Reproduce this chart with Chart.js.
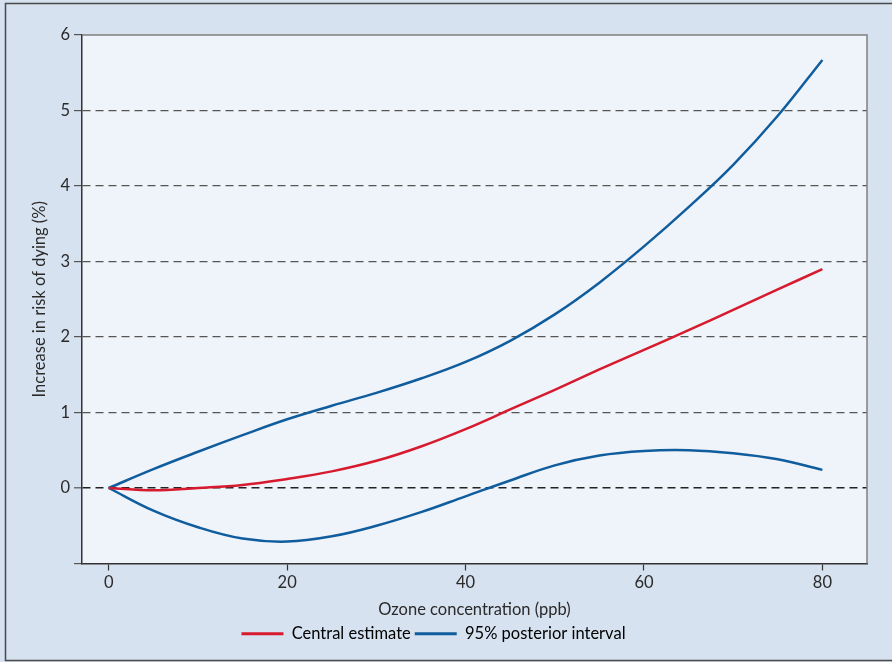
<!DOCTYPE html>
<html>
<head>
<meta charset="utf-8">
<script src="https://cdn.jsdelivr.net/npm/chart.js@4.4.0/dist/chart.umd.min.js"></script>
<style>
  html, body { margin: 0; padding: 0; background: #d6e2ef; }
  #wrap { width: 892px; height: 662px; }
</style>
</head>
<body>
<div id="wrap"><canvas id="ozoneChart" width="892" height="662"></canvas></div>
<script>
// ozone concentration (ppb)
const ozone = [0, 5, 10, 15, 20, 25, 30, 35, 40, 45, 50, 55, 60, 65, 70, 75, 80];
// increase in risk of dying (%)
const central = [0, -0.03, 0, 0.04, 0.12, 0.22, 0.36, 0.55, 0.78, 1.04, 1.3, 1.57, 1.83, 2.09, 2.36, 2.63, 2.9];
const upper95 = [0, 0.25, 0.48, 0.7, 0.91, 1.09, 1.26, 1.45, 1.67, 1.95, 2.3, 2.72, 3.2, 3.72, 4.28, 4.93, 5.67];
const lower95 = [0, -0.3, -0.52, -0.67, -0.71, -0.64, -0.5, -0.32, -0.11, 0.1, 0.3, 0.43, 0.49, 0.5, 0.46, 0.38, 0.24];

const xTicks = [0, 20, 40, 60, 80];
const yTicks = [-1, 0, 1, 2, 3, 4, 5, 6];

const RED = '#d71a2e';
const BLUE = '#105d9e';
const FONT = 'Lato';
const FSIZE = 16.5;

function pts(ys) {
    return ozone.map((x, i) => ({ x: x, y: ys[i] }));
}

// background panel, plot area fill, outer frame and top/right plot border
const framePlugin = {
    id: 'frame',
    beforeDraw(chart) {
        const { ctx, chartArea: a } = chart;
        ctx.save();
        ctx.fillStyle = '#d6e2ef';
        ctx.fillRect(0, 0, chart.width, chart.height);
        ctx.strokeStyle = '#4a4a4a';
        ctx.lineWidth = 1.5;
        ctx.strokeRect(5.5, 3.5, 892, 657);
        ctx.fillStyle = '#eff3fa';
        ctx.fillRect(a.left, a.top, a.right - a.left, a.bottom - a.top);
        ctx.restore();
    },
    afterDraw(chart) {
        const { ctx, chartArea: a } = chart;
        ctx.save();
        ctx.strokeStyle = '#808080';
        ctx.lineWidth = 1.5;
        ctx.beginPath();
        ctx.moveTo(a.left, a.top);
        ctx.lineTo(a.right, a.top);
        ctx.lineTo(a.right, a.bottom);
        ctx.stroke();
        ctx.restore();
    }
};

const ctx = document.getElementById('ozoneChart').getContext('2d');
const ozoneChart = new Chart(ctx, {
    type: 'line',
    data: {
        datasets: [
            {
                label: 'Central estimate',
                data: pts(central),
                borderColor: RED,
                backgroundColor: RED,
                borderWidth: 2.5
            },
            {
                label: '95% posterior interval',
                data: pts(upper95),
                borderColor: BLUE,
                backgroundColor: BLUE,
                borderWidth: 2.5
            },
            {
                label: 'lower',
                data: pts(lower95),
                borderColor: BLUE,
                backgroundColor: BLUE,
                borderWidth: 2.5
            }
        ]
    },
    options: {
        responsive: false,
        animation: false,
        elements: {
            point: { radius: 0 },
            line: { tension: 0.4 }
        },
        layout: { padding: { top: 35, right: 25, left: 0, bottom: 10 } },
        plugins: {
            tooltip: { enabled: false },
            legend: {
                position: 'bottom',
                labels: {
                    font: { family: FONT, size: FSIZE },
                    color: '#2a2a2a',
                    boxWidth: 42,
                    boxHeight: 3,
                    padding: 4,
                    filter: item => item.datasetIndex < 2,
                    generateLabels(chart) {
                        return chart.data.datasets.map((ds, i) => ({
                            text: ds.label,
                            fillStyle: ds.borderColor,
                            strokeStyle: ds.borderColor,
                            lineWidth: 0,
                            datasetIndex: i
                        }));
                    }
                }
            }
        },
        scales: {
            x: {
                type: 'linear',
                min: -3,
                max: 85,
                afterBuildTicks(scale) {
                    scale.ticks = xTicks.map(v => ({ value: v }));
                },
                afterFit(scale) {
                    scale.height = 58;
                },
                ticks: {
                    font: { family: FONT, size: FSIZE },
                    color: '#2a2a2a',
                    padding: 2
                },
                grid: {
                    drawOnChartArea: false,
                    tickLength: 7,
                    tickColor: '#333',
                    tickWidth: 1.2
                },
                border: { color: '#333', width: 1.5 },
                title: {
                    display: true,
                    text: 'Ozone concentration (ppb)',
                    font: { family: FONT, size: FSIZE },
                    color: '#2a2a2a',
                    padding: { top: 0, bottom: 2 }
                }
            },
            y: {
                type: 'linear',
                min: -1,
                max: 6,
                afterBuildTicks(scale) {
                    scale.ticks = yTicks.map(v => ({ value: v }));
                },
                afterFit(scale) {
                    scale.width = 82;
                },
                ticks: {
                    font: { family: FONT, size: FSIZE },
                    color: '#2a2a2a',
                    padding: 4,
                    callback: v => (v < 0 ? '' : v)
                },
                grid: {
                    tickLength: 8,
                    lineWidth: c => (c.tick && c.tick.value === 0 ? 1.6 : 1.2),
                    color: c => {
                        const v = c.tick ? c.tick.value : null;
                        if (v === -1 || v === 6) return 'rgba(0,0,0,0)';
                        return v === 0 ? '#222' : '#555';
                    },
                    tickColor: '#555',
                    tickWidth: 1.2
                },
                border: { color: '#333', width: 1.5, dash: [8, 5] },
                title: {
                    display: true,
                    text: 'Increase in risk of dying (%)',
                    font: { family: FONT, size: FSIZE },
                    color: '#2a2a2a',
                    padding: { top: 30, bottom: 0 }
                }
            }
        }
    },
    plugins: [framePlugin]
});
</script>
</body>
</html>
